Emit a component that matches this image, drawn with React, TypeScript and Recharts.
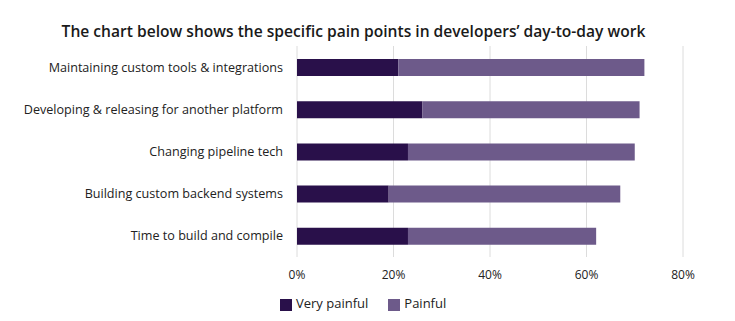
import { BarChart, Bar, XAxis, YAxis, CartesianGrid, Legend } from 'recharts';

const painPoints = [
  'Maintaining custom tools & integrations',
  'Developing & releasing for another platform',
  'Changing pipeline tech',
  'Building custom backend systems',
  'Time to build and compile',
];
const veryPainful = [21, 26, 23, 19, 23];
const painful = [51, 45, 47, 48, 39];
const xTicks = [0, 20, 40, 60, 80];
const seriesOrder = ['veryPainful', 'painful'];

const data = painPoints.map((name, i) => ({
  name,
  veryPainful: veryPainful[i],
  painful: painful[i],
}));

const FONT = '"Open Sans", sans-serif';

export default function App() {
  return (
    <div style={{ position: 'absolute', left: 0, top: 0, width: 735, height: 321, background: '#fff', fontFamily: FONT }}>
      <div
        style={{
          position: 'absolute', top: 20, left: 0, width: 707, textAlign: 'center',
          fontSize: 15.6, fontWeight: 600, color: '#1a1a1a',
        }}
      >
        The chart below shows the specific pain points in developers’ day-to-day work
      </div>
      <BarChart
        width={735}
        height={321}
        data={data}
        layout="vertical"
        margin={{ top: 46, right: 52, bottom: 16, left: 0 }}
        barSize={17}
      >
        <CartesianGrid horizontal={false} stroke="#dcdcdc" />
        <XAxis
          type="number"
          domain={[0, 80]}
          ticks={xTicks}
          tickFormatter={(v) => `${v}%`}
          axisLine={false}
          tickLine={false}
          tickMargin={7}
          height={30}
          tick={{ fill: '#222', fontSize: 12, fontFamily: FONT }}
        />
        <YAxis
          type="category"
          dataKey="name"
          width={297}
          axisLine={false}
          tickLine={false}
          tickMargin={8}
          tick={{ fill: '#222', fontSize: 12.6, fontFamily: FONT }}
        />
        <Legend
          iconType="square"
          iconSize={12}
          itemSorter={(item: any) => seriesOrder.indexOf(item.dataKey)}
          wrapperStyle={{ top: 294, left: 280, width: 'auto', fontSize: 13, fontFamily: FONT }}
          formatter={(value) => <span style={{ color: '#222', marginRight: 10 }}>{value}</span>}
        />
        <Bar dataKey="veryPainful" name="Very painful" stackId="a" fill="#29104a" isAnimationActive={false} />
        <Bar dataKey="painful" name="Painful" stackId="a" fill="#6d5a8a" isAnimationActive={false} />
      </BarChart>
    </div>
  );
}
